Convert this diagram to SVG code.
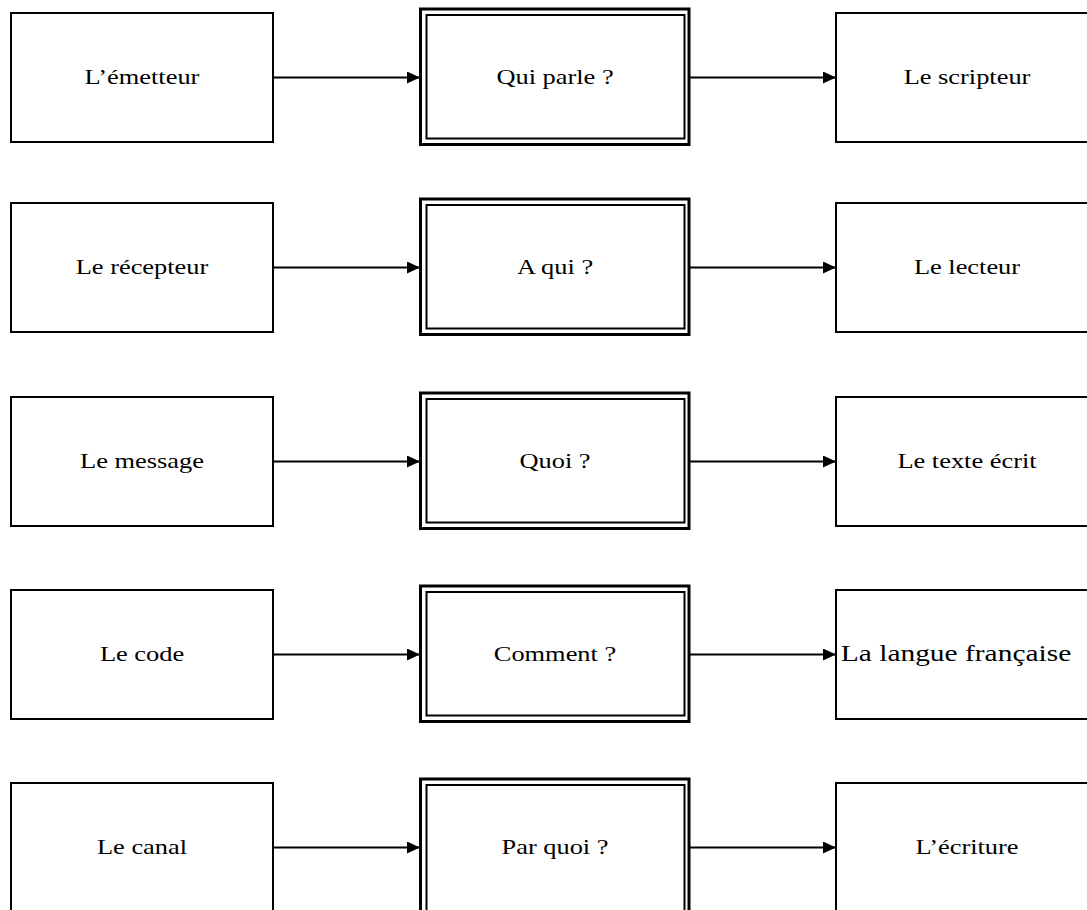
<svg xmlns="http://www.w3.org/2000/svg" width="1087" height="910" viewBox="0 0 1087 910">
<style>
.box{fill:#fff;stroke:#000;stroke-width:2}
.outer{fill:#fff;stroke:#000;stroke-width:3}
.inner{fill:none;stroke:#000;stroke-width:2}
.lbl{font-family:"Liberation Serif","Times New Roman",serif;font-size:22px;fill:#000;text-anchor:middle}
.conn{stroke:#000;stroke-width:2;fill:none;marker-end:url(#ah)}
</style>
<defs>
<marker id="ah" viewBox="0 0 13 12" refX="13" refY="6" markerWidth="13" markerHeight="12" markerUnits="userSpaceOnUse" orient="auto">
<path d="M0,0 L13,6 L0,12 Z" fill="#000"/>
</marker>
</defs>
<rect width="1087" height="910" fill="#fff"/>

<g id="connectors">
<line class="conn" x1="273" y1="77.5" x2="420" y2="77.5"/>
<line class="conn" x1="689" y1="77.5" x2="836" y2="77.5"/>
<line class="conn" x1="273" y1="267.5" x2="420" y2="267.5"/>
<line class="conn" x1="689" y1="267.5" x2="836" y2="267.5"/>
<line class="conn" x1="273" y1="461.5" x2="420" y2="461.5"/>
<line class="conn" x1="689" y1="461.5" x2="836" y2="461.5"/>
<line class="conn" x1="273" y1="654.5" x2="420" y2="654.5"/>
<line class="conn" x1="689" y1="654.5" x2="836" y2="654.5"/>
<line class="conn" x1="273" y1="847.5" x2="420" y2="847.5"/>
<line class="conn" x1="689" y1="847.5" x2="836" y2="847.5"/>
</g>

<!-- Row 1 -->
<g id="emetteur"><rect class="box" x="11" y="13" width="262" height="129"/>
<text class="lbl" transform="translate(142,83.5) scale(1.2,1)">L’émetteur</text></g>
<g id="qui-parle"><rect class="outer" x="420.5" y="9" width="268.5" height="135.5"/><rect class="inner" x="426.5" y="15" width="258" height="123.5"/>
<text class="lbl" transform="translate(555,83.5) scale(1.2,1)">Qui parle ?</text></g>
<g id="scripteur"><rect class="box" x="836" y="13" width="262" height="129"/>
<text class="lbl" transform="translate(967,83.5) scale(1.2,1)">Le scripteur</text></g>

<!-- Row 2 -->
<g id="recepteur"><rect class="box" x="11" y="203" width="262" height="129"/>
<text class="lbl" transform="translate(142,273.5) scale(1.2,1)">Le récepteur</text></g>
<g id="a-qui"><rect class="outer" x="420.5" y="199" width="268.5" height="135.5"/><rect class="inner" x="426.5" y="205" width="258" height="123.5"/>
<text class="lbl" transform="translate(555,273.5) scale(1.2,1)">A qui ?</text></g>
<g id="lecteur"><rect class="box" x="836" y="203" width="262" height="129"/>
<text class="lbl" transform="translate(967,273.5) scale(1.2,1)">Le lecteur</text></g>

<!-- Row 3 -->
<g id="message"><rect class="box" x="11" y="397" width="262" height="129"/>
<text class="lbl" transform="translate(142,467.5) scale(1.2,1)">Le message</text></g>
<g id="quoi"><rect class="outer" x="420.5" y="393" width="268.5" height="135.5"/><rect class="inner" x="426.5" y="399" width="258" height="123.5"/>
<text class="lbl" transform="translate(555,467.5) scale(1.2,1)">Quoi ?</text></g>
<g id="texte-ecrit"><rect class="box" x="836" y="397" width="262" height="129"/>
<text class="lbl" transform="translate(967,467.5) scale(1.2,1)">Le texte écrit</text></g>

<!-- Row 4 -->
<g id="code"><rect class="box" x="11" y="590" width="262" height="129"/>
<text class="lbl" transform="translate(142,660.5) scale(1.2,1)">Le code</text></g>
<g id="comment"><rect class="outer" x="420.5" y="586" width="268.5" height="135.5"/><rect class="inner" x="426.5" y="592" width="258" height="123.5"/>
<text class="lbl" transform="translate(555,660.5) scale(1.2,1)">Comment ?</text></g>
<g id="langue"><rect class="box" x="836" y="590" width="262" height="129"/>
<text class="lbl" style="font-size:23px" transform="translate(956,661) scale(1.28,1)">La langue française</text></g>

<!-- Row 5 -->
<g id="canal"><rect class="box" x="11" y="783" width="262" height="160"/>
<text class="lbl" transform="translate(142,853.5) scale(1.2,1)">Le canal</text></g>
<g id="par-quoi"><rect class="outer" x="420.5" y="779" width="268.5" height="170"/><rect class="inner" x="426.5" y="785" width="258" height="160"/>
<text class="lbl" transform="translate(555,853.5) scale(1.2,1)">Par quoi ?</text></g>
<g id="ecriture"><rect class="box" x="836" y="783" width="262" height="160"/>
<text class="lbl" transform="translate(967,853.5) scale(1.2,1)">L’écriture</text></g>
</svg>
